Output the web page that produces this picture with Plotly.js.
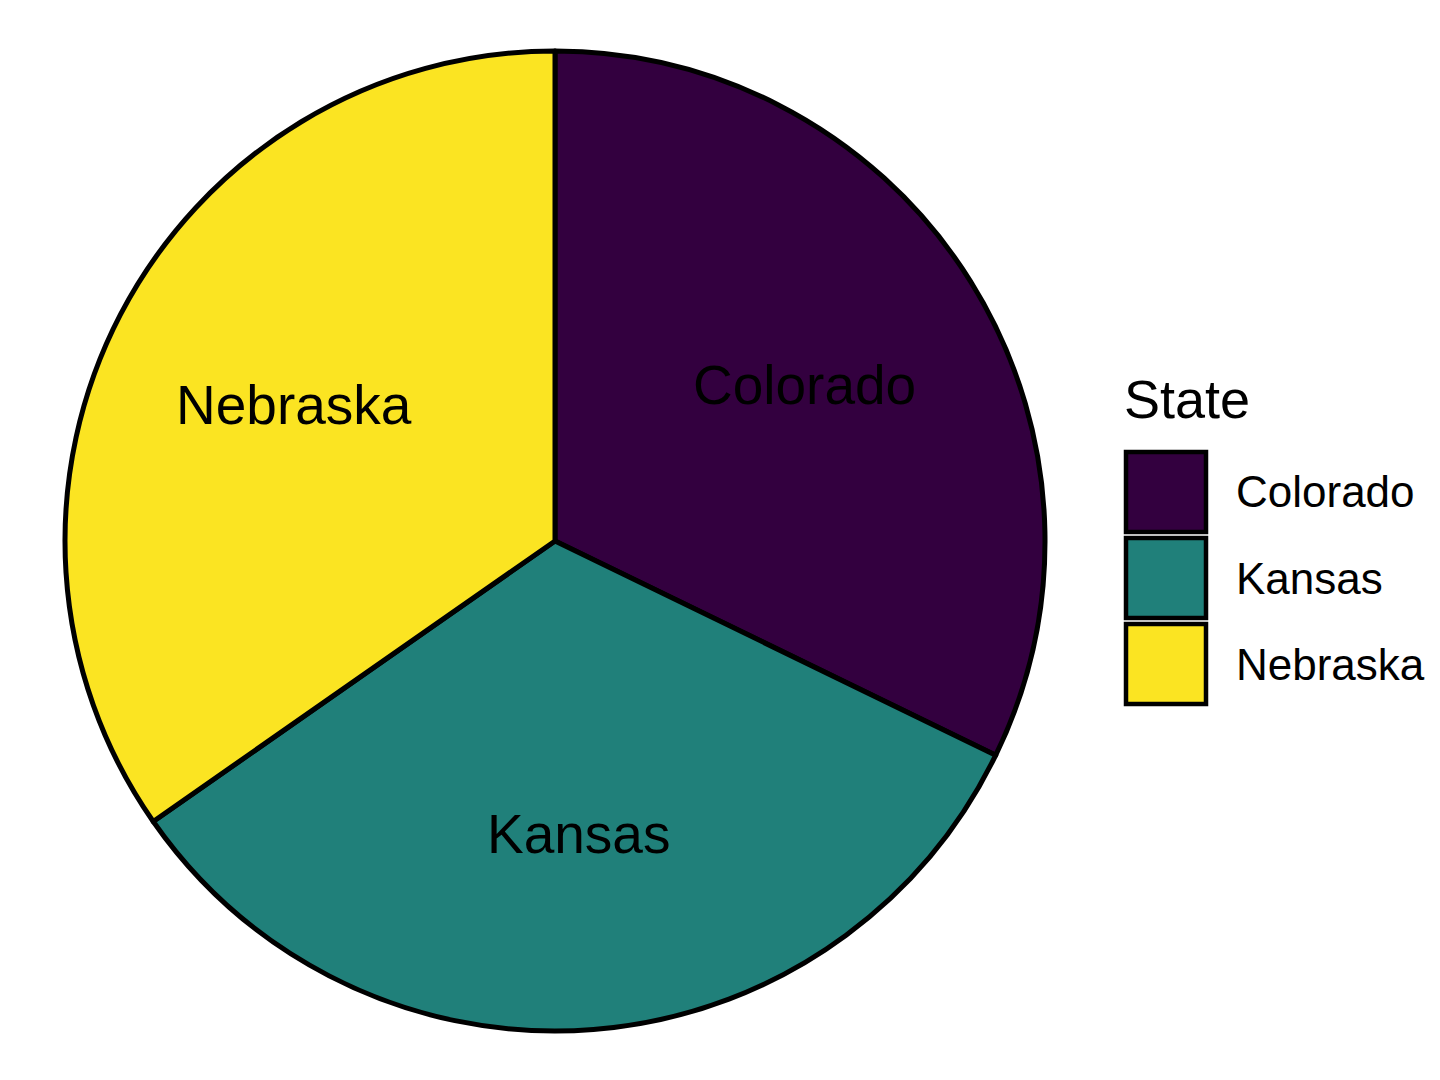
<!DOCTYPE html>
<html>
<head>
<meta charset="utf-8">
<script src="https://cdn.plot.ly/plotly-3.0.1.min.js"></script>
<style>html,body{margin:0;padding:0;background:#fff;}#chart{width:1440px;height:1080px;}</style>
</head>
<body>
<div id="chart"></div>
<script>
// Data
const states = ["Colorado", "Kansas", "Nebraska"];
const shares = [32.2, 33.1, 34.7];
const colors = ["#33003F", "#20807A", "#FBE422"];
const legendTitle = "State";

const W = 1440, H = 1080;
const px = x => x / W;
const py = y => 1 - y / H;
const FONT = "Liberation Sans, Arial, sans-serif";

// pie geometry (pixels)
const cx = 555, cy = 541, R = 490;

const trace = {
  type: "pie",
  labels: states,
  values: shares,
  sort: false,
  direction: "clockwise",
  rotation: 0,
  marker: { colors: colors, line: { color: "#000000", width: 5 } },
  textinfo: "none",
  hoverinfo: "label+value",
  showlegend: false,
  domain: { x: [px(cx - R), px(cx + R)], y: [py(cy + R), py(cy - R)] }
};

const shapes = [];
const annotations = [];

// Slice labels placed along each slice's mid-angle, derived from the values
const total = shares.reduce((a, b) => a + b, 0);
let cum = 0;
states.forEach((s, i) => {
  const mid = (cum + shares[i] / 2) / total * 2 * Math.PI;
  cum += shares[i];
  const rl = 0.6 * R;
  annotations.push({
    text: s, xref: "paper", yref: "paper",
    x: px(cx + rl * Math.sin(mid)), y: py(cy - rl * Math.cos(mid)),
    xanchor: "center", yanchor: "middle", showarrow: false,
    font: { family: FONT, size: 55, color: "#000" }
  });
});

// Custom legend built from the data arrays
annotations.push({
  text: legendTitle, xref: "paper", yref: "paper",
  x: px(1122), y: py(399), xanchor: "left", yanchor: "middle",
  showarrow: false, font: { family: FONT, size: 54, color: "#000" }
});
const boxTop = 452, boxSize = 80, boxStep = 86, boxLeft = 1126;
states.forEach((s, i) => {
  const y0 = boxTop + i * boxStep;
  shapes.push({
    type: "rect", xref: "paper", yref: "paper",
    x0: px(boxLeft), x1: px(boxLeft + boxSize),
    y0: py(y0 + boxSize), y1: py(y0),
    fillcolor: colors[i], line: { color: "#000", width: 4.5 }
  });
  annotations.push({
    text: s, xref: "paper", yref: "paper",
    x: px(1234), y: py(y0 + boxSize / 2), xanchor: "left", yanchor: "middle",
    showarrow: false, font: { family: FONT, size: 44, color: "#000" }
  });
});

const layout = {
  width: W, height: H,
  margin: { l: 0, r: 0, t: 0, b: 0 },
  paper_bgcolor: "#ffffff",
  plot_bgcolor: "#ffffff",
  font: { family: FONT, color: "#000" },
  showlegend: false,
  shapes: shapes,
  annotations: annotations
};

Plotly.newPlot("chart", [trace], layout, { displayModeBar: false, staticPlot: true });
</script>
</body>
</html>
